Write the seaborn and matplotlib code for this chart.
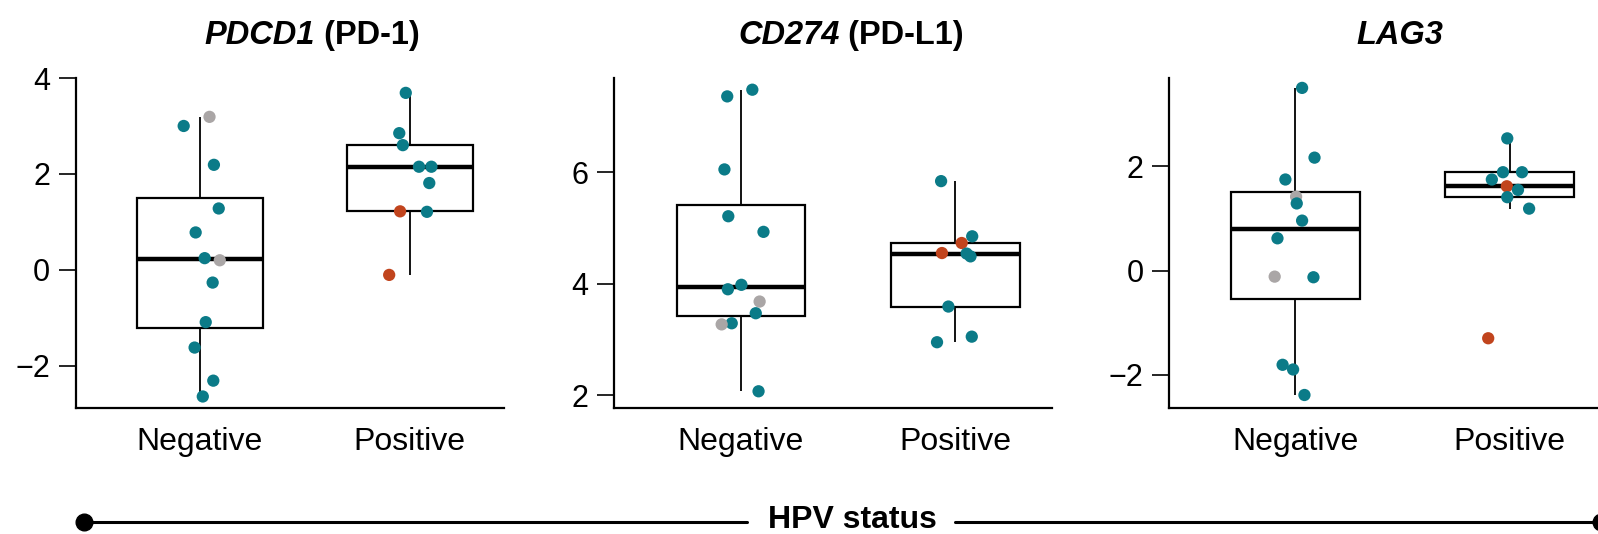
import numpy as np
import pandas as pd
import matplotlib
matplotlib.use("Agg")
import matplotlib.pyplot as plt
import seaborn as sns
from matplotlib.lines import Line2D

# ---------------- data ----------------
groups = ["Negative", "Positive"]
genes = ["PDCD1", "CD274", "LAG3"]
protein = [" (PD-1)", " (PD-L1)", ""]

pdcd1_neg = [3.00, 3.19, 2.19, 1.28, 0.78, 0.244, 0.20, -0.265, -1.09, -1.62, -2.31, -2.64]
pdcd1_neg_jit = [-0.076, 0.047, 0.068, 0.091, -0.019, 0.024, 0.096, 0.062, 0.029, -0.024, 0.065, 0.015]
pdcd1_neg_cls = ["A", "B", "A", "A", "A", "A", "B", "A", "A", "A", "A", "A"]
pdcd1_pos = [3.69, 2.85, 2.60, 2.15, 2.15, 1.81, 1.22, 1.21, -0.105]
pdcd1_pos_jit = [-0.018, -0.049, -0.032, 0.045, 0.104, 0.094, -0.045, 0.083, -0.097]
pdcd1_pos_cls = ["A", "A", "A", "A", "A", "A", "C", "A", "C"]

cd274_neg = [7.36, 7.48, 6.05, 5.21, 4.93, 3.98, 3.90, 3.68, 3.47, 3.29, 3.27, 2.07]
cd274_neg_jit = [-0.064, 0.053, -0.077, -0.059, 0.105, 0.002, -0.061, 0.087, 0.069, -0.043, -0.09, 0.082]
cd274_neg_cls = ["A", "A", "A", "A", "A", "A", "A", "B", "A", "A", "B", "A"]
cd274_pos = [5.84, 4.85, 4.73, 4.55, 4.54, 4.49, 3.59, 3.05, 2.95]
cd274_pos_jit = [-0.067, 0.078, 0.029, -0.063, 0.052, 0.07, -0.033, 0.076, -0.086]
cd274_pos_cls = ["A", "A", "C", "C", "A", "A", "A", "A", "A"]

lag3_neg = [3.51, 2.17, 1.75, 1.42, 1.29, 0.96, 0.62, -0.116, -0.128, -1.81, -1.90, -2.39]
lag3_neg_jit = [0.031, 0.089, -0.047, 0.003, 0.006, 0.031, -0.084, -0.097, 0.084, -0.06, -0.011, 0.042]
lag3_neg_cls = ["A", "A", "A", "B", "A", "A", "A", "B", "A", "A", "A", "A"]
lag3_pos = [2.54, 1.89, 1.89, 1.75, 1.62, 1.55, 1.41, 1.19, -1.30]
lag3_pos_jit = [-0.011, -0.031, 0.058, -0.083, -0.013, 0.039, -0.011, 0.091, -0.1]
lag3_pos_cls = ["A", "A", "A", "A", "C", "A", "A", "A", "C"]

yticks = [[-2, 0, 2, 4], [2, 4, 6], [-2, 0, 2]]
ylims = [(-2.88, 4.0), (1.77, 7.69), (-2.64, 3.70)]

palette = {"A": "#0b7b88", "B": "#aaa6a6", "C": "#c1441d"}

panels = [
    (pdcd1_neg, pdcd1_neg_jit, pdcd1_neg_cls, pdcd1_pos, pdcd1_pos_jit, pdcd1_pos_cls),
    (cd274_neg, cd274_neg_jit, cd274_neg_cls, cd274_pos, cd274_pos_jit, cd274_pos_cls),
    (lag3_neg, lag3_neg_jit, lag3_neg_cls, lag3_pos, lag3_pos_jit, lag3_pos_cls),
]

# ---------------- style ----------------
sns.set_theme(style="white")
plt.rcParams["font.family"] = ["Liberation Sans", "DejaVu Sans"]
plt.rcParams["text.color"] = "black"
plt.rcParams["axes.labelcolor"] = "black"
plt.rcParams["xtick.color"] = "black"
plt.rcParams["ytick.color"] = "black"

W, H = 1598, 534
fig = plt.figure(figsize=(W / 100, H / 100), dpi=100)

# axes rectangles in pixels (left, top, right, bottom)
rects = [(75.8, 78, 504, 408), (614.4, 78, 1052, 408), (1169.1, 78, 1606, 408)]
title_cx = [312, 851, 1400]
xlim = (-0.59, 1.45)

for i, (rect, pdata) in enumerate(zip(rects, panels)):
    l, t, r, b = rect
    ax = fig.add_axes([l / W, 1 - b / H, (r - l) / W, (b - t) / H])
    nv, nj, nc, pv, pj, pc = pdata
    df = pd.DataFrame({
        "hpv": [groups[0]] * len(nv) + [groups[1]] * len(pv),
        "value": list(nv) + list(pv),
        "jit": list(nj) + list(pj),
        "cls": list(nc) + list(pc),
    })
    df["xpos"] = df["hpv"].map({groups[0]: 0, groups[1]: 1}) + df["jit"]

    sns.boxplot(data=df, x="hpv", y="value", order=groups, ax=ax, width=0.6,
                showfliers=False, showcaps=False, color="white", linecolor="black",
                linewidth=1.6,
                boxprops=dict(facecolor="white", edgecolor="black", linewidth=1.6),
                medianprops=dict(color="black", linewidth=3.2),
                whiskerprops=dict(color="black", linewidth=1.3))
    sns.scatterplot(data=df, x="xpos", y="value", hue="cls", palette=palette,
                    s=78, edgecolor="none", linewidth=0, legend=False, ax=ax, zorder=5)

    ax.set_xlim(*xlim)
    ax.set_ylim(*ylims[i])
    ax.set_yticks(yticks[i])
    ax.set_yticklabels([("\u2212" + str(abs(v))) if v < 0 else str(v) for v in yticks[i]])
    ax.set_xticks([0, 1])
    ax.set_xticklabels(groups)
    ax.set_xlabel("")
    ax.set_ylabel("")
    for s in ["top", "right"]:
        ax.spines[s].set_visible(False)
    for s in ["left", "bottom"]:
        ax.spines[s].set_linewidth(1.6)
        ax.spines[s].set_color("black")
    ax.tick_params(axis="y", length=12.5, width=1.2, color="black", labelsize=22,
                   pad=6, left=True, labelcolor="black")
    ax.tick_params(axis="x", length=0, labelsize=23, pad=14, labelcolor="black")
    ax.set_facecolor("white")

    # title: italic gene + plain protein, both bold, centred at title_cx
    ty = 1 - 44 / H
    t1 = fig.text(0, ty, genes[i], fontsize=23.5, fontweight="bold", fontstyle="italic",
                  va="baseline", ha="left", color="black")
    t2 = fig.text(0, ty, protein[i], fontsize=23.5, fontweight="bold",
                  va="baseline", ha="left", color="black") if protein[i] else None
    fig.canvas.draw()
    ren = fig.canvas.get_renderer()
    w1 = t1.get_window_extent(ren).width
    w2 = t2.get_window_extent(ren).width if t2 is not None else 0
    x0 = title_cx[i] - (w1 + w2) / 2
    t1.set_x(x0 / W)
    if t2 is not None:
        t2.set_x((x0 + w1) / W)

# bottom "HPV status" bracket line
ly = 1 - 522 / H
fig.add_artist(Line2D([84 / W, 747 / W], [ly, ly], color="black", lw=2.2))
fig.add_artist(Line2D([955 / W, 1601 / W], [ly, ly], color="black", lw=2.2))
fig.add_artist(Line2D([84 / W], [ly], marker="o", markersize=12, color="black", lw=0))
fig.add_artist(Line2D([1601 / W], [ly], marker="o", markersize=12, color="black", lw=0))
fig.text(852 / W, 1 - 528.5 / H, "HPV status", fontsize=23, fontweight="bold",
         ha="center", va="baseline", color="black")

fig.savefig("out.png", dpi=100)
